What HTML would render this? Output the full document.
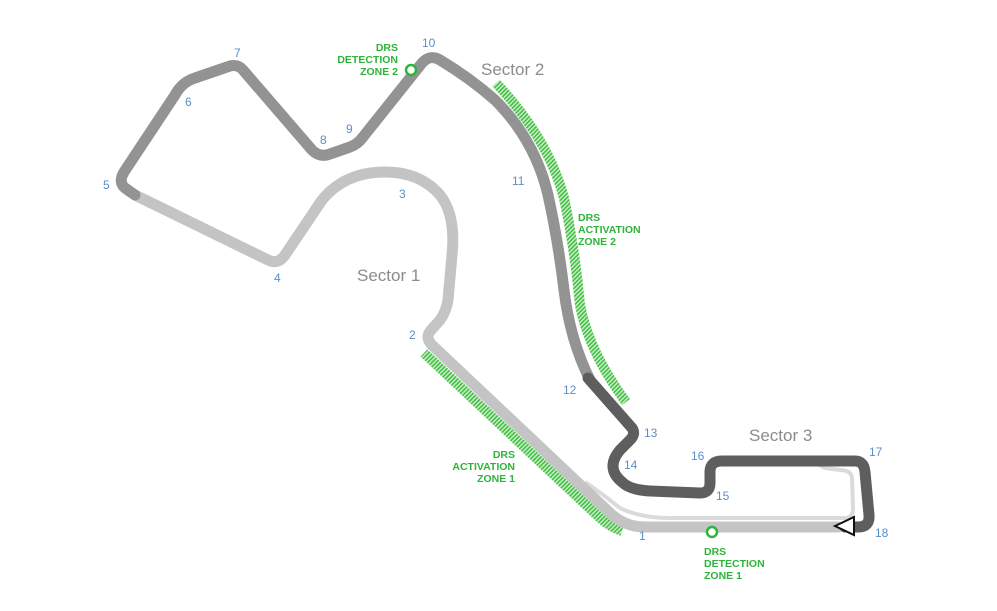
<!DOCTYPE html>
<html><head><meta charset="utf-8"><style>
html,body{margin:0;padding:0;background:#fff;}
svg{display:block;font-family:"Liberation Sans",sans-serif;}
.n{fill:#5b8fc9;font-size:12px;}
.s{fill:#8c8c8c;font-size:17px;}
.g{fill:#2fb33a;font-size:10.5px;font-weight:bold;}
</style></head><body>
<svg width="997" height="611" viewBox="0 0 997 611">
<defs>
<pattern id="h" width="3" height="3" patternUnits="userSpaceOnUse" patternTransform="rotate(45)">
<rect width="3" height="3" fill="#c9ecc9"/><rect width="1.5" height="3" fill="#3fbf3f"/>
</pattern>
</defs>
<!-- DRS zones -->
<path d="M424,353 L600,518 Q610,527 622,531" fill="none" stroke="url(#h)" stroke-width="10"/>
<path d="M496,83 Q548,138 564,198 Q575,250 580,305 Q589,352 626,402" fill="none" stroke="url(#h)" stroke-width="10"/>
<!-- pit lane -->
<path d="M585,482 Q600,492 620,508 Q640,518 670,518 L845,518 Q853,518 853,508 L852,478 Q851,470 840,470 L825,468 L815,463" fill="none" stroke="#dadada" stroke-width="4" stroke-linejoin="round"/>
<!-- sector 1 -->
<path d="M838,527 L645,527 Q625,527 610,513 L432,345 Q424,337 432,329 L440,320 Q446,312 448,300 L452,255 Q456,215 440,195 Q420,172 385,172 Q345,172 322,200 L285,255 Q278,265 268,260 L135,195" fill="none" stroke="#c4c4c4" stroke-width="11" stroke-linejoin="round" stroke-linecap="round"/>
<!-- sector 2 -->
<path d="M135,195 L125,188 Q118,182 124,172 L175,95 Q182,82 195,78 L230,66 Q238,64 243,70 L312,150 Q320,158 330,154 L350,147 Q358,144 363,137 L422,63 Q430,54 440,60 Q470,78 495,100 Q535,140 548,195 Q558,240 564,290 Q570,340 590,380" fill="none" stroke="#939393" stroke-width="11" stroke-linejoin="round" stroke-linecap="round"/>
<!-- sector 3 -->
<path d="M588,378 L632,428 Q636,434 630,440 L620,450 Q605,468 622,482 Q630,490 650,491 L700,493 Q710,493 710,483 L710,472 Q710,461 722,461 L855,461 Q864,461 865,472 L869,515 Q870,527 858,527 L845,527" fill="none" stroke="#5e5e5e" stroke-width="11" stroke-linejoin="round" stroke-linecap="round"/>
<!-- finish -->
<polygon points="835,526 854,517 854,535" fill="#fff" stroke="#111" stroke-width="2" stroke-linejoin="miter"/>
<!-- detection markers -->
<circle cx="411" cy="70" r="5" fill="#fff" stroke="#2fb33a" stroke-width="2.5"/>
<circle cx="712" cy="532" r="5" fill="#fff" stroke="#2fb33a" stroke-width="2.5"/>
<!-- numbers -->
<text class="n" x="639" y="540">1</text>
<text class="n" x="409" y="339">2</text>
<text class="n" x="399" y="198">3</text>
<text class="n" x="274" y="282">4</text>
<text class="n" x="103" y="189">5</text>
<text class="n" x="185" y="106">6</text>
<text class="n" x="234" y="57">7</text>
<text class="n" x="320" y="144">8</text>
<text class="n" x="346" y="133">9</text>
<text class="n" x="422" y="47">10</text>
<text class="n" x="512" y="185">11</text>
<text class="n" x="563" y="394">12</text>
<text class="n" x="644" y="437">13</text>
<text class="n" x="624" y="469">14</text>
<text class="n" x="716" y="500">15</text>
<text class="n" x="691" y="460">16</text>
<text class="n" x="869" y="456">17</text>
<text class="n" x="875" y="537">18</text>
<!-- sectors -->
<text class="s" x="357" y="281">Sector 1</text>
<text class="s" x="481" y="75">Sector 2</text>
<text class="s" x="749" y="441">Sector 3</text>
<!-- DRS labels -->
<text class="g" text-anchor="end"><tspan x="398" y="51">DRS</tspan><tspan x="398" y="63">DETECTION</tspan><tspan x="398" y="75">ZONE 2</tspan></text>
<text class="g"><tspan x="704" y="555">DRS</tspan><tspan x="704" y="567">DETECTION</tspan><tspan x="704" y="579">ZONE 1</tspan></text>
<text class="g"><tspan x="578" y="221">DRS</tspan><tspan x="578" y="233">ACTIVATION</tspan><tspan x="578" y="245">ZONE 2</tspan></text>
<text class="g" text-anchor="end"><tspan x="515" y="458">DRS</tspan><tspan x="515" y="470">ACTIVATION</tspan><tspan x="515" y="482">ZONE 1</tspan></text>
</svg>
</body></html>
